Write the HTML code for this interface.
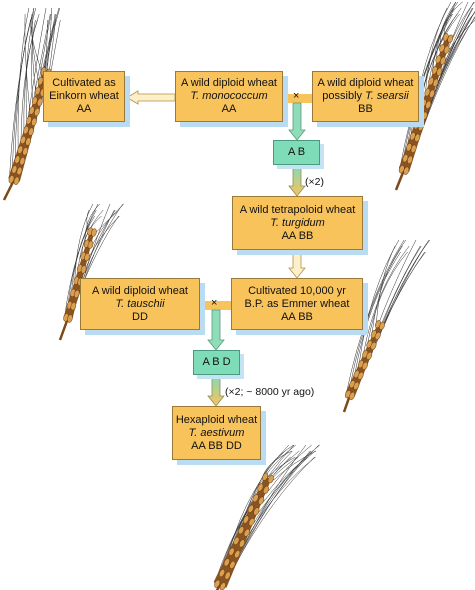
<!DOCTYPE html>
<html><head><meta charset="utf-8">
<style>
html,body{margin:0;padding:0;background:#fff;}
#wrap{position:relative;width:475px;height:590px;overflow:hidden;font-family:"Liberation Sans",sans-serif;}
svg{position:absolute;left:0;top:0;}
.box{position:absolute;background:#f9c35c;border:1px solid #9a7a3a;box-sizing:border-box;text-align:center;font-size:11px;line-height:13px;color:#111;display:flex;align-items:center;justify-content:center;box-shadow:5px 5px 0 #b9dcf2;}
.box>div{display:block;width:100%;}
.g{background:#7fdcb8;border-color:#4a9a80;box-shadow:4px 4px 0 #c4e4f4;}
.lbl{position:absolute;font-size:10.5px;color:#111;}
i{font-style:italic;}
</style></head><body>
<div id="wrap">
<svg id="art" width="475" height="590">
<defs>
<linearGradient id="vg" x1="0" y1="0" x2="0" y2="1"><stop offset="0" stop-color="#7fdcb8"/><stop offset="1" stop-color="#f9c35c"/></linearGradient>
</defs>
<g id="wheats"></g>
<rect x="283" y="94" width="30" height="9" fill="#f9c35c"/>
<rect x="200" y="301" width="32" height="9" fill="#f9c35c"/>
<path d="M175 94 L138 94 L138 91 L127 97.5 L138 104 L138 101 L175 101 Z" fill="#fdf0c8" stroke="#b09050" stroke-width="0.8"/>
<path d="M293 103 L301 103 L301 130 L305 130 L297 140 L289 130 L293 130 Z" fill="#8fdcb8" stroke="#5a9a80" stroke-width="0.8"/>
<path d="M293 165 L301 165 L301 186 L305 186 L297 196 L289 186 L293 186 Z" fill="url(#vg)" stroke="#90905a" stroke-width="0.8"/>
<path d="M293 250 L301 250 L301 268 L305 268 L297 278 L289 268 L293 268 Z" fill="#fdf0c8" stroke="#b09050" stroke-width="0.8"/>
<path d="M212 310 L220 310 L220 340 L224 340 L216 350 L208 340 L212 340 Z" fill="#8fdcb8" stroke="#5a9a80" stroke-width="0.8"/>
<path d="M212 375 L220 375 L220 396 L224 396 L216 406 L208 396 L212 396 Z" fill="url(#vg)" stroke="#90905a" stroke-width="0.8"/>
</svg>
<div class="box" style="left:43px;top:71px;width:82px;height:51px"><div>Cultivated as<br>Einkorn wheat<br>AA</div></div>
<div class="box" style="left:175px;top:71px;width:108px;height:51px"><div>A wild diploid wheat<br><i>T. monococcum</i><br>AA</div></div>
<div class="box" style="left:312px;top:71px;width:107px;height:51px"><div>A wild diploid wheat<br>possibly <i>T. searsii</i><br>BB</div></div>
<div class="lbl" style="left:293px;top:90px;font-size:11px">×</div>
<div class="box g" style="left:273px;top:140px;width:47px;height:25px"><div>A B</div></div>
<div class="lbl" style="left:305px;top:176px">(×2)</div>
<div class="box" style="left:232px;top:196px;width:131px;height:54px"><div>A wild tetrapoloid wheat<br><i>T. turgidum</i><br>AA BB</div></div>
<div class="box" style="left:80px;top:278px;width:120px;height:52px"><div>A wild diploid wheat<br><i>T. tauschii</i><br>DD</div></div>
<div class="box" style="left:231px;top:278px;width:132px;height:52px"><div>Cultivated 10,000 yr<br>B.P. as Emmer wheat<br>AA BB</div></div>
<div class="lbl" style="left:211px;top:297px;font-size:11px">×</div>
<div class="box g" style="left:193px;top:350px;width:47px;height:25px"><div>A B D</div></div>
<div class="lbl" style="left:225px;top:386px">(×2; ~ 8000 yr ago)</div>
<div class="box" style="left:172px;top:406px;width:89px;height:54px"><div>Hexaploid wheat<br><i>T. aestivum</i><br>AA BB DD</div></div>
</div>
<script>
var NS='http://www.w3.org/2000/svg';
var g=document.getElementById('wheats');
function el(t,a){var e=document.createElementNS(NS,t);for(var k in a)e.setAttribute(k,a[k]);return e;}
function wheat(name,x0,y0,x1,y1,sx,sy,ax,ay,w,n){
 var grp=el('g',{});
 
 
 var dx=x1-x0,dy=y1-y0,L=Math.sqrt(dx*dx+dy*dy),ux=dx/L,uy=dy/L,px=-uy,py=ux;
 for(var i=0;i<n;i++){var t=i/(n-1);var bx=x0+dx*t,by=y0+dy*t;
  for(var s=-1;s<=1;s+=2){var ex=bx+px*s*w*0.4,ey=by+py*s*w*0.4;
   var tx=ax+(s*(6+i%4*3)),ty=ay+(i%3)*6;
   grp.appendChild(el('path',{d:'M'+ex+' '+ey+' Q'+(ex+(tx-ex)*0.4+s*4)+' '+(ey+(ty-ey)*0.6)+' '+(tx+(i*1.3)%9)+' '+ty,stroke:'#333',fill:'none','stroke-width':0.5}));}}
 grp.appendChild(el('line',{x1:x0,y1:y0,x2:sx,y2:sy,stroke:'#7a4a18','stroke-width':2.5}));
 grp.appendChild(el('path',{d:'M'+(x0+px*w/2)+' '+(y0+py*w/2)+' L'+(x1+px*w/4)+' '+(y1+py*w/4)+' L'+(x1-px*w/4)+' '+(y1-py*w/4)+' L'+(x0-px*w/2)+' '+(y0-py*w/2)+' Z',fill:'#8a5420'}));
 for(var i=0;i<n;i++){var t=i/(n-1);var bx=x0+dx*t,by=y0+dy*t;
  for(var s=-1;s<=1;s+=2){var ang=Math.atan2(uy,ux)*180/Math.PI;
   grp.appendChild(el('ellipse',{cx:bx+px*s*w*0.22,cy:by+py*s*w*0.22,rx:4,ry:2.4,fill:'#d8a050',stroke:'#6a3a10','stroke-width':0.5,transform:'rotate('+ang+' '+(bx+px*s*w*0.22)+' '+(by+py*s*w*0.22)+')'}));}}
 g.appendChild(grp);
}
wheat('wheat-top-left',14,180,46,72,4,200,40,8,12,12);
wheat('wheat-top-right',404,170,448,38,396,190,462,2,11,13);
wheat('wheat-mid-left',68,318,92,232,60,340,104,204,9,8);
wheat('wheat-mid-right',350,395,380,325,344,412,410,240,10,8);
wheat('wheat-bottom',220,585,268,478,216,592,300,445,14,11);
</script>
</body></html>
